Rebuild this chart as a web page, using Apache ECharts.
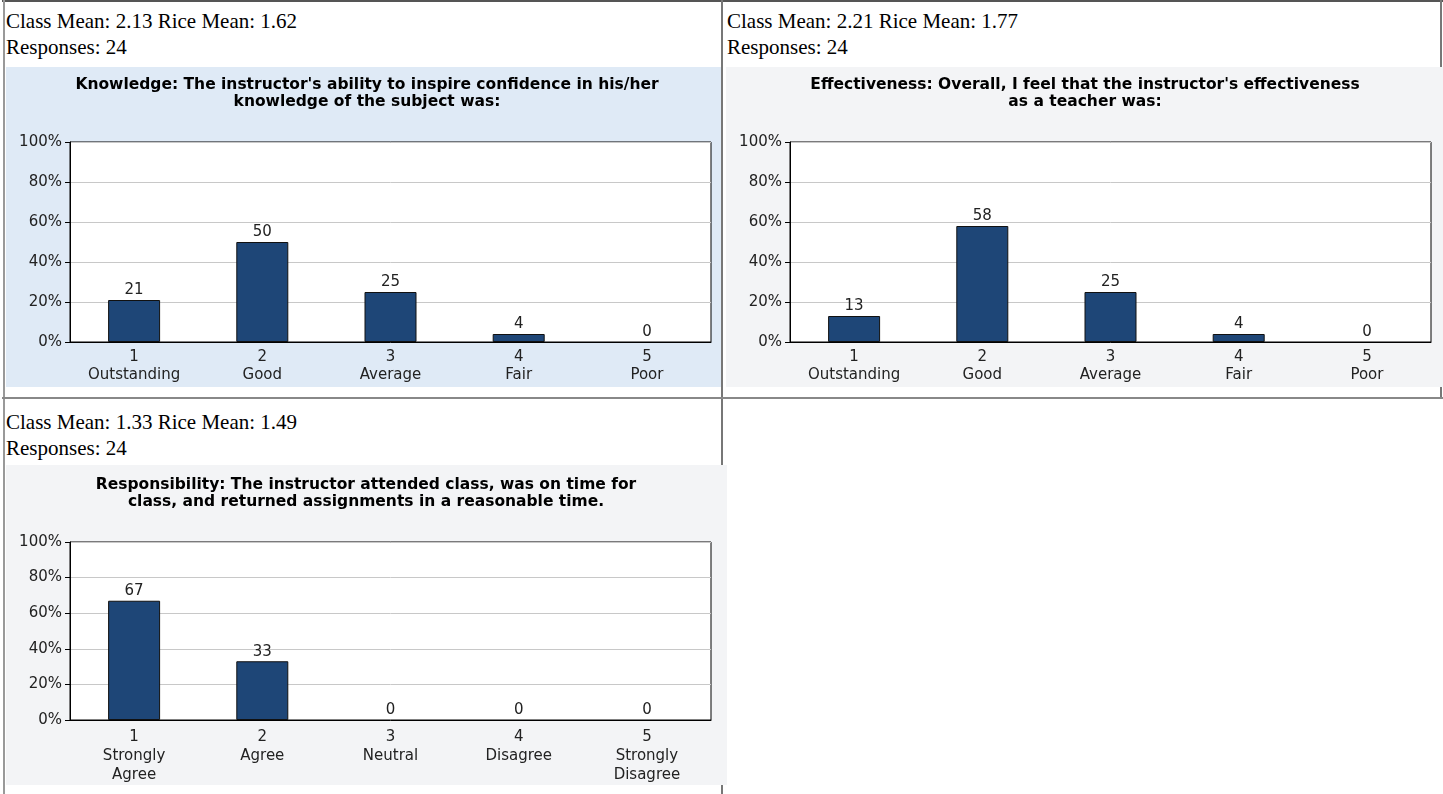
<!DOCTYPE html>
<html>
<head>
<meta charset="utf-8">
<script src="https://cdn.jsdelivr.net/npm/echarts@6/dist/echarts.min.js"></script>
<style>
  html, body { margin: 0; padding: 0; background: #fff; }
  #wrap { position: relative; width: 1443px; height: 794px; overflow: hidden; }
  .ln { position: absolute; background: #808080; }
  .hdr { position: absolute; font-family: 'Liberation Serif', 'Times New Roman', serif; font-size: 21px; line-height: 26px; color: #000; white-space: nowrap; }
  .bg { position: absolute; }
  #chart { position: absolute; left: 0; top: 0; width: 1443px; height: 794px; }
</style>
</head>
<body>
<div id="wrap">
  <div class="ln" style="left:2px;top:0;width:1441px;height:2px;background:#555;"></div>
  <div class="ln" style="left:3px;top:0;width:2px;height:794px;background:#999;"></div>
  <div class="ln" style="left:721px;top:0;width:2px;height:794px;background:#777;"></div>
  <div class="ln" style="left:1440px;top:0;width:2px;height:399px;background:#777;"></div>
  <div class="ln" style="left:2px;top:397px;width:1441px;height:2px;background:#888;"></div>

  <div class="hdr" style="left:6px;top:8px;">Class Mean: 2.13 Rice Mean: 1.62<br>Responses: 24</div>
  <div class="hdr" style="left:727px;top:8px;">Class Mean: 2.21 Rice Mean: 1.77<br>Responses: 24</div>
  <div class="hdr" style="left:6px;top:409px;">Class Mean: 1.33 Rice Mean: 1.49<br>Responses: 24</div>

  <div class="bg" style="left:6px;top:67px;width:715px;height:320px;background:#dfeaf6;"></div>
  <div class="bg" style="left:726px;top:67px;width:717px;height:320px;background:#f3f4f6;"></div>
  <div class="bg" style="left:6px;top:465px;width:721px;height:320px;background:#f3f4f6;"></div>
  <div id="chart"></div>
</div>
<script>
const ratingCategories = ['1\nOutstanding', '2\nGood', '3\nAverage', '4\nFair', '5\nPoor'];
const agreeCategories = ['1\nStrongly\nAgree', '2\nAgree', '3\nNeutral', '4\nDisagree', '5\nStrongly\nDisagree'];
const knowledgeValues = [21, 50, 25, 4, 0];
const effectivenessValues = [13, 58, 25, 4, 0];
const responsibilityValues = [67, 33, 0, 0, 0];
const knowledgeTitle = "Knowledge: The instructor's ability to inspire confidence in his/her\nknowledge of the subject was:";
const effectivenessTitle = "Effectiveness: Overall, I feel that the instructor's effectiveness\nas a teacher was:";
const responsibilityTitle = "Responsibility: The instructor attended class, was on time for\nclass, and returned assignments in a reasonable time.";

const FONT = 'DejaVu Sans';
const chart = echarts.init(document.getElementById('chart'));

const grids = [
  { left: 70, top: 142, width: 641, height: 200 },
  { left: 790, top: 142, width: 641, height: 200 },
  { left: 70, top: 542, width: 641, height: 178 }
];

function mkTitle(text, cx, top) {
  return {
    text: text, left: cx, top: top, textAlign: 'center', padding: 0,
    textStyle: { fontFamily: FONT, fontWeight: 'bold', fontSize: 15.5, lineHeight: 17, color: '#000' }
  };
}

function mkX(i, cats, margin, lh) {
  return {
    type: 'category', gridIndex: i, data: cats,
    axisLine: { lineStyle: { color: '#000', width: 1 } },
    axisTick: { show: false },
    axisLabel: { fontFamily: FONT, fontSize: 15, lineHeight: lh, color: '#222', margin: margin, interval: 0 }
  };
}

function mkY(i) {
  return {
    type: 'value', gridIndex: i, min: 0, max: 100, interval: 20,
    axisLine: { show: true, lineStyle: { color: '#000', width: 1 } },
    axisTick: { show: true, length: 5, lineStyle: { color: '#000' } },
    axisLabel: { formatter: '{value}%', fontFamily: FONT, fontSize: 15, color: '#222', margin: 8 },
    splitLine: { show: true, lineStyle: { color: '#c8c8c8', width: 1 } }
  };
}

function mkSeries(i, values) {
  return {
    type: 'bar', xAxisIndex: i, yAxisIndex: i, barWidth: 52,
    data: values.map(v => ({ value: v, itemStyle: v === 0 ? { borderWidth: 0 } : undefined })),
    itemStyle: { color: '#1e4677', borderColor: '#111', borderWidth: 1 },
    label: { show: true, position: 'top', distance: 2, fontFamily: FONT, fontSize: 15, color: '#222', formatter: '{c}' },
    emphasis: { disabled: true },
    animation: false
  };
}

chart.setOption({
  animation: false,
  title: [
    mkTitle(knowledgeTitle, 367, 76),
    mkTitle(effectivenessTitle, 1085, 76),
    mkTitle(responsibilityTitle, 366, 476)
  ],
  grid: grids.map(g => Object.assign({ show: true, backgroundColor: '#fff', borderColor: '#000', borderWidth: 1 }, g)),
  xAxis: [mkX(0, ratingCategories, 6, 18), mkX(1, ratingCategories, 6, 18), mkX(2, agreeCategories, 8, 19)],
  yAxis: [mkY(0), mkY(1), mkY(2)],
  series: [mkSeries(0, knowledgeValues), mkSeries(1, effectivenessValues), mkSeries(2, responsibilityValues)]
});
</script>
</body>
</html>
